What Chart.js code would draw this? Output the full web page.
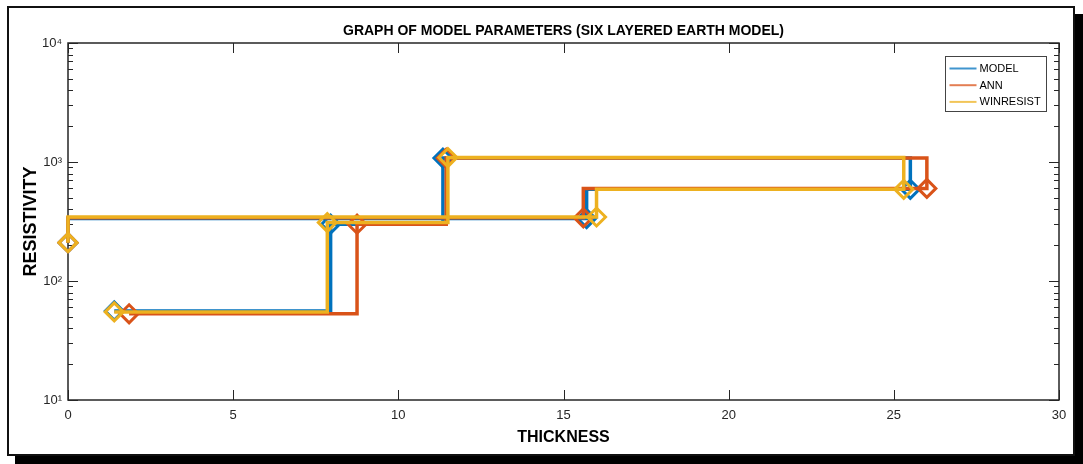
<!DOCTYPE html>
<html>
<head>
<meta charset="utf-8">
<title>Graph of model parameters</title>
<script src="https://cdn.jsdelivr.net/npm/chart.js@4.4.0/dist/chart.umd.min.js"></script>
<style>
  html, body { margin: 0; padding: 0; background: #fff; }
  #wrap { position: relative; width: 1083px; height: 464px; overflow: hidden; }
  #frame {
    position: absolute; left: 7px; top: 6px; width: 1068px; height: 450px;
    box-sizing: border-box; border: 2px solid #111; background: #fff;
    box-shadow: 8px 8px 0 #000;
  }
  #chart { position: absolute; left: 0; top: 0; }
</style>
</head>
<body>
<div id="wrap">
  <div id="frame"></div>
  <canvas id="chart" width="1083" height="464"></canvas>
</div>
<script>
// Layer depth (x) and resistivity (y), in the order the stairs are drawn
const modelX = [1.4, 7.95, 11.35, 25.5, 15.7, 0];
const modelY = [56, 300, 1080, 590, 335, 210];
const annX = [1.85, 8.75, 11.45, 26.0, 15.6, 0];
const annY = [53, 300, 1080, 600, 340, 210];
const winX = [1.4, 7.85, 11.5, 25.3, 16.0, 0];
const winY = [55, 310, 1090, 590, 345, 210];

const xTicks = [0, 5, 10, 15, 20, 25, 30];
const yTicks = [10, 100, 1000, 10000];
const yTickLabels = ['10\u00B9', '10\u00B2', '10\u00B3', '10\u2074'];
const seriesNames = ['MODEL', 'ANN', 'WINRESIST'];
const seriesColors = ['#0072BD', '#D95319', '#EDB120'];

const FONT = '"Liberation Sans", Arial, Helvetica, sans-serif';

/**
 * Build a stairs path like MATLAB stairs(x, y)
 */
function stairs(xs, ys) {
  const pts = [];
  for (let i = 0; i < xs.length; i++) {
    if (i > 0) pts.push({ x: xs[i], y: ys[i - 1] });
    pts.push({ x: xs[i], y: ys[i] });
  }
  return pts;
}

function makeDataset(i, xs, ys) {
  return {
    label: seriesNames[i],
    data: stairs(xs, ys),
    borderColor: seriesColors[i],
    borderWidth: 3.5,
    borderJoinStyle: 'miter',
    pointStyle: 'rectRot',
    pointRadius: ctx => (ctx.index % 2 === 0 ? 9 : 0),
    pointBorderColor: seriesColors[i],
    pointBackgroundColor: 'rgba(0,0,0,0)',
    pointBorderWidth: 3,
    tension: 0,
    clip: false,
    order: 3 - i // WINRESIST drawn on top
  };
}

// Axes box, inside ticks, title and legend in MATLAB style
const matlabAxes = {
  id: 'matlabAxes',
  beforeDatasetsDraw(chart) {
    const { ctx, chartArea: a, scales: { x, y } } = chart;
    ctx.save();
    ctx.strokeStyle = '#262626';
    ctx.lineWidth = 1;
    ctx.beginPath();
    xTicks.forEach(v => {
      const px = Math.round(x.getPixelForValue(v)) + 0.5;
      ctx.moveTo(px, a.bottom); ctx.lineTo(px, a.bottom - 10);
      ctx.moveTo(px, a.top); ctx.lineTo(px, a.top + 10);
    });
    yTicks.forEach((d, k) => {
      for (let m = 1; m <= 9; m++) {
        if (k === yTicks.length - 1 && m > 1) break;
        const py = Math.round(y.getPixelForValue(d * m)) + 0.5;
        const len = m === 1 ? 10 : 5;
        ctx.moveTo(a.left, py); ctx.lineTo(a.left + len, py);
        ctx.moveTo(a.right, py); ctx.lineTo(a.right - len, py);
      }
    });
    ctx.stroke();
    ctx.lineWidth = 1.5;
    ctx.strokeRect(a.left, a.top, a.right - a.left, a.bottom - a.top);
    ctx.restore();
  },
  afterDraw(chart) {
    const { ctx, chartArea: a } = chart;
    ctx.save();
    // title
    ctx.fillStyle = '#000';
    ctx.font = 'bold 14px ' + FONT;
    ctx.textAlign = 'center';
    ctx.textBaseline = 'middle';
    ctx.fillText('GRAPH OF MODEL PARAMETERS (SIX LAYERED EARTH MODEL)', (a.left + a.right) / 2, 31);

    // legend
    const bx = 945.5, by = 56.5, bw = 101, bh = 55;
    ctx.fillStyle = '#fff';
    ctx.fillRect(bx, by, bw, bh);
    ctx.strokeStyle = '#444';
    ctx.lineWidth = 1;
    ctx.strokeRect(bx, by, bw, bh);
    ctx.font = '11px ' + FONT;
    ctx.textAlign = 'left';
    seriesNames.forEach((name, i) => {
      const ly = by + 12 + i * 16.7;
      ctx.strokeStyle = seriesColors[i];
      ctx.globalAlpha = 0.75;
      ctx.lineWidth = 2;
      ctx.beginPath();
      ctx.moveTo(bx + 4, ly); ctx.lineTo(bx + 31, ly);
      ctx.stroke();
      ctx.globalAlpha = 1;
      ctx.fillStyle = '#000';
      ctx.fillText(name, bx + 34, ly + 0.5);
    });
    ctx.restore();
  }
};

const tickFont = { family: FONT, size: 13 };

new Chart(document.getElementById('chart'), {
  type: 'line',
  data: {
    datasets: [
      makeDataset(0, modelX, modelY),
      makeDataset(1, annX, annY),
      makeDataset(2, winX, winY)
    ]
  },
  options: {
    responsive: false,
    animation: false,
    layout: { padding: { top: 43, right: 24, left: 0, bottom: 0 } },
    plugins: {
      legend: { display: false },
      tooltip: { enabled: false },
      title: { display: false }
    },
    scales: {
      x: {
        type: 'linear',
        min: 0,
        max: 30,
        afterBuildTicks: s => { s.ticks = xTicks.map(v => ({ value: v })); },
        afterFit: s => { s.height = 64; },
        grid: { display: false, drawTicks: false },
        border: { display: false },
        ticks: { padding: 8, font: tickFont, color: '#262626', maxRotation: 0 },
        title: {
          display: true,
          text: 'THICKNESS',
          color: '#000',
          font: { family: FONT, size: 16, weight: 'bold' },
          padding: { top: 0, bottom: 17 }
        }
      },
      y: {
        type: 'logarithmic',
        min: 10,
        max: 10000,
        afterBuildTicks: s => { s.ticks = yTicks.map(v => ({ value: v })); },
        afterFit: s => { s.width = 68; },
        grid: { display: false, drawTicks: false },
        border: { display: false },
        ticks: {
          padding: 6,
          font: tickFont,
          color: '#262626',
          autoSkip: false,
          callback: (v, i) => yTickLabels[i]
        },
        title: {
          display: true,
          text: 'RESISTIVITY',
          color: '#000',
          font: { family: FONT, size: 18, weight: 'bold' },
          padding: { top: 20, bottom: 0 }
        }
      }
    }
  },
  plugins: [matlabAxes]
});
</script>
</body>
</html>
